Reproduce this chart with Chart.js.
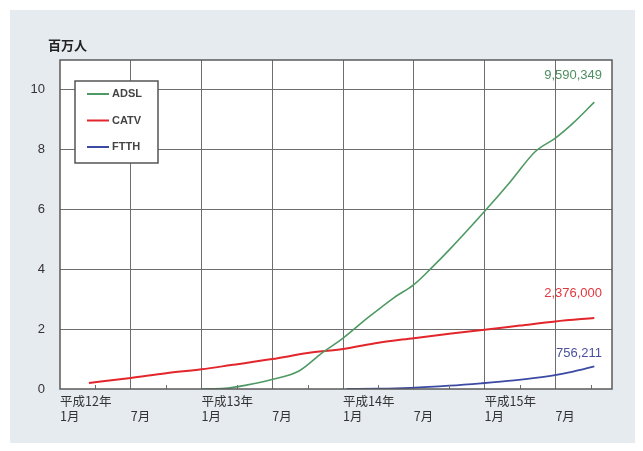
<!DOCTYPE html>
<html>
<head>
<meta charset="utf-8">
<script src="https://cdn.jsdelivr.net/npm/chart.js@4.4.0/dist/chart.umd.min.js"></script>
<style>
  html, body { margin: 0; padding: 0; background: #ffffff; }
  #panel { position: absolute; left: 10px; top: 10px; width: 625px; height: 433px; background: #e6ebf0; }
  #wrap { position: absolute; left: 0; top: 0; width: 643px; height: 451px; }
</style>
</head>
<body>
<div id="panel"></div>
<div id="wrap"><canvas id="chart" width="643" height="451"></canvas></div>
<script>
// Broadband subscribers (millions), x = months since 平成12年1月

const yearLabels = ['平成12年', '平成13年', '平成14年', '平成15年'];
const midLabel = '7月';
const janLabel = '1月';
const unitLabel = '百万人';

const adslMonths = [12, 14, 15.8, 17.8, 20.3, 22.2, 24, 26, 28.3, 30, 31.5, 33, 36, 38.2, 40.3, 42, 43.5, 45.3];
const adslValues = [0, 0.02, 0.13, 0.3, 0.61, 1.2, 1.7, 2.35, 3.05, 3.49, 4.05, 4.65, 5.94, 6.94, 7.94, 8.39, 8.89, 9.59];

const catvMonths = [2.45, 6, 9, 12, 14.5, 18, 21, 24, 27, 30, 33, 36, 39, 42, 45.3];
const catvValues = [0.2, 0.37, 0.53, 0.66, 0.8, 1.0, 1.2, 1.34, 1.55, 1.7, 1.85, 1.98, 2.12, 2.26, 2.376];

const ftthMonths = [24.3, 27, 29.7, 33, 35.7, 38.5, 41.6, 43.5, 45.3];
const ftthValues = [0, 0.01, 0.04, 0.11, 0.19, 0.29, 0.44, 0.58, 0.756];

const seriesNames = ['ADSL', 'CATV', 'FTTH'];
const endLabels = ['9,590,349', '2,376,000', '756,211'];

const colors = ['#4f9a64', '#e2262b', '#3b4aa2'];
const labelColors = ['#4f8f60', '#e2373c', '#4a509c'];
const gridColor = '#6e6e6e';

function points(xs, ys) {
    return xs.map((x, i) => ({ x: x, y: ys[i] }));
}

// white plot area, frame, inward minor ticks, legend, unit and end labels
const decorations = {
    id: 'decorations',
    beforeDraw(chart) {
        const a = chart.chartArea;
        const ctx = chart.ctx;
        ctx.save();
        ctx.fillStyle = '#ffffff';
        ctx.fillRect(a.left, a.top, a.right - a.left, a.bottom - a.top);
        ctx.restore();
    },
    afterDraw(chart) {
        const a = chart.chartArea;
        const ctx = chart.ctx;
        const xs = chart.scales.x;
        const ys = chart.scales.y;
        ctx.save();

        // minor ticks every 3 months, pointing up
        ctx.strokeStyle = gridColor;
        ctx.lineWidth = 1;
        for (let m = 3; m < 46; m += 6) {
            const px = Math.round(xs.getPixelForValue(m)) + 0.5;
            ctx.beginPath();
            ctx.moveTo(px, a.bottom);
            ctx.lineTo(px, a.bottom - 4);
            ctx.stroke();
        }

        // frame
        ctx.strokeStyle = '#5a5a5a';
        ctx.lineWidth = 1.5;
        ctx.strokeRect(a.left, a.top, a.right - a.left, a.bottom - a.top);

        // unit
        ctx.fillStyle = '#222';
        ctx.font = 'bold 13px "Noto Sans CJK JP"';
        ctx.textAlign = 'left';
        ctx.textBaseline = 'middle';
        ctx.fillText(unitLabel, a.left - 12, a.top - 15);

        // legend
        const lx = a.left + 15, ly = a.top + 21;
        ctx.fillStyle = '#ffffff';
        ctx.fillRect(lx, ly, 83, 82);
        ctx.strokeStyle = '#555';
        ctx.lineWidth = 1.5;
        ctx.strokeRect(lx, ly, 83, 82);
        ctx.font = 'bold 11px "Liberation Sans", Arial';
        ctx.textBaseline = 'middle';
        seriesNames.forEach((name, i) => {
            const y = ly + 13 + i * 26.5;
            ctx.strokeStyle = colors[i];
            ctx.lineWidth = 2;
            ctx.beginPath();
            ctx.moveTo(lx + 12, y);
            ctx.lineTo(lx + 34, y);
            ctx.stroke();
            ctx.fillStyle = '#444';
            ctx.fillText(name, lx + 37, y);
        });

        // end labels
        const lastX = [adslMonths, catvMonths, ftthMonths].map(v => v[v.length - 1]);
        const lastY = [adslValues, catvValues, ftthValues].map(v => v[v.length - 1]);
        const lift = [27, 25, 13];
        ctx.font = '13px "Liberation Sans", Arial';
        ctx.textAlign = 'right';
        endLabels.forEach((t, i) => {
            ctx.fillStyle = labelColors[i];
            ctx.fillText(t, Math.round(xs.getPixelForValue(lastX[i])) + 8, Math.round(ys.getPixelForValue(lastY[i])) - lift[i]);
        });
        ctx.restore();
    }
};

new Chart(document.getElementById('chart'), {
    type: 'line',
    data: {
        datasets: [
            { label: seriesNames[0], data: points(adslMonths, adslValues), borderColor: colors[0], borderWidth: 1.6 },
            { label: seriesNames[1], data: points(catvMonths, catvValues), borderColor: colors[1], borderWidth: 2 },
            { label: seriesNames[2], data: points(ftthMonths, ftthValues), borderColor: colors[2], borderWidth: 1.8 }
        ]
    },
    options: {
        responsive: false,
        animation: false,
        devicePixelRatio: 1,
        layout: { padding: { top: 60, right: 31, bottom: 22, left: 0 } },
        elements: {
            point: { radius: 0 },
            line: { cubicInterpolationMode: 'monotone', fill: false }
        },
        plugins: {
            legend: { display: false },
            tooltip: { enabled: false }
        },
        scales: {
            x: {
                type: 'linear',
                min: 0,
                max: 46.8,
                afterFit(s) { s.height = 40; },
                border: { display: false },
                grid: {
                    drawTicks: false,
                    color: c => (c.tick && c.tick.value % 6 === 0 && c.tick.value > 0) ? gridColor : 'rgba(0,0,0,0)',
                    lineWidth: 1
                },
                ticks: {
                    stepSize: 3,
                    autoSkip: false,
                    maxRotation: 0,
                    align: 'start',
                    padding: 5,
                    color: '#333',
                    font: { family: '"Noto Sans CJK JP"', size: 12.5, lineHeight: '15px' },
                    callback: v => {
                        if (v % 12 === 0) return [yearLabels[v / 12], janLabel];
                        if (v % 6 === 0) return ['', midLabel];
                        return '';
                    }
                }
            },
            y: {
                min: 0,
                max: 11,
                afterFit(s) { s.width = 60; },
                border: { display: false },
                grid: {
                    drawTicks: false,
                    color: c => (c.tick && c.tick.value > 0 && c.tick.value < 11) ? gridColor : 'rgba(0,0,0,0)',
                    lineWidth: 1
                },
                ticks: {
                    stepSize: 2,
                    padding: 15,
                    color: '#333',
                    font: { family: '"Liberation Sans", Arial', size: 13 },
                    callback: v => (v === 11 ? '' : v)
                }
            }
        }
    },
    plugins: [decorations]
});
</script>
</body>
</html>
